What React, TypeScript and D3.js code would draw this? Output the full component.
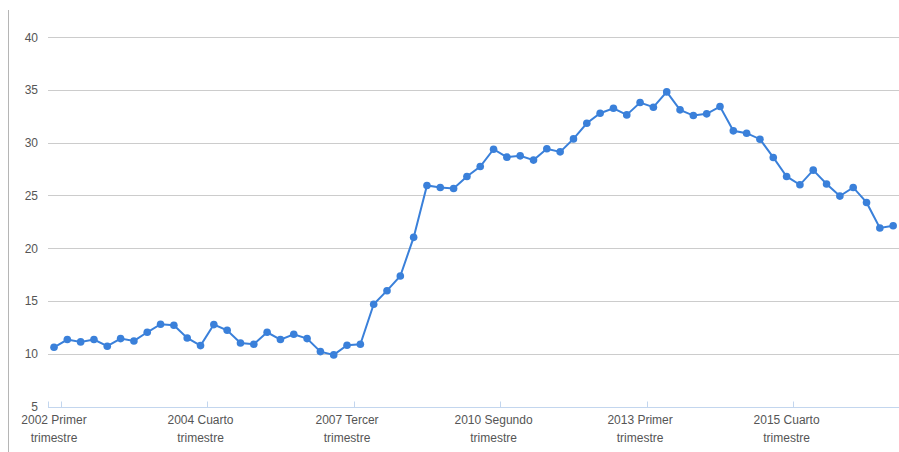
import React, { useEffect, useRef } from "react";
import * as d3 from "d3";

// Trimestres desde 2002 T1 hasta 2017 T4
const quarterNames = ["Primer", "Segundo", "Tercer", "Cuarto"];
const startYear = 2002;

const values = [
  10.61, 11.34, 11.12, 11.34, 10.71, 11.43, 11.21, 12.03, 12.79, 12.69,
  11.49, 10.77, 12.76, 12.22, 11.02, 10.9, 12.03, 11.34, 11.84, 11.43,
  10.2, 9.89, 10.8, 10.9, 14.68, 15.97, 17.36, 21.02, 25.94, 25.75,
  25.65, 26.79, 27.73, 29.37, 28.62, 28.74, 28.34, 29.41, 29.12, 30.35,
  31.83, 32.78, 33.25, 32.62, 33.79, 33.35, 34.8, 33.1, 32.56, 32.72,
  33.41, 31.11, 30.89, 30.32, 28.59, 26.79, 26.0, 27.39, 26.07, 24.93,
  25.75, 24.33, 21.91, 22.12,
];

const categories = values.map(
  (_, i) =>
    `${startYear + Math.floor(i / 4)} ${quarterNames[i % 4]} trimestre`,
);

const labelEvery = 11;
const yTicks = [5, 10, 15, 20, 25, 30, 35, 40];

const W = 899;
const H = 452;

const App: React.FC = () => {
  const svgRef = useRef<SVGSVGElement>(null);

  useEffect(() => {
    if (!svgRef.current) return;
    const svg = d3.select(svgRef.current);
    svg.selectAll("*").remove();

    const plotLeft = 48;
    const plotRight = 899;
    const step = 13.32;
    const firstX = 54;

    const x = d3
      .scaleLinear()
      .domain([0, values.length - 1])
      .range([firstX, firstX + step * (values.length - 1)]);
    const y = d3.scaleLinear().domain([5, 40]).range([406.5, 37]);

    // borde izquierdo
    svg
      .append("line")
      .attr("x1", 8.5)
      .attr("x2", 8.5)
      .attr("y1", 10)
      .attr("y2", H)
      .attr("stroke", "#b5b5b5")
      .attr("stroke-width", 1);

    // rejilla horizontal
    const grid = svg.append("g");
    grid
      .selectAll("line")
      .data(yTicks.filter((t) => t !== 5))
      .enter()
      .append("line")
      .attr("x1", plotLeft)
      .attr("x2", plotRight)
      .attr("y1", (d) => Math.round(y(d)) + 0.5)
      .attr("y2", (d) => Math.round(y(d)) + 0.5)
      .attr("stroke", "#cccccc")
      .attr("stroke-width", 1);

    // etiquetas eje Y
    svg
      .append("g")
      .selectAll("text")
      .data(yTicks)
      .enter()
      .append("text")
      .attr("x", 38)
      .attr("y", (d) => y(d) + 4.5)
      .attr("text-anchor", "end")
      .style("font-family", "Arial, 'Liberation Sans', sans-serif")
      .style("font-size", "12px")
      .style("fill", "#555")
      .text((d) => d);

    // eje X
    const baseY = Math.round(y(5)) + 0.5;
    svg
      .append("line")
      .attr("x1", plotLeft)
      .attr("x2", plotRight)
      .attr("y1", baseY)
      .attr("y2", baseY)
      .attr("stroke", "#c3d6ee")
      .attr("stroke-width", 1);

    const labelIdx = d3.range(0, values.length, labelEvery);
    const tickPos = [plotLeft, ...labelIdx.map((i) => x(i) + step / 2)];
    svg
      .append("g")
      .selectAll("line")
      .data(tickPos)
      .enter()
      .append("line")
      .attr("x1", (d) => Math.round(d) + 0.5)
      .attr("x2", (d) => Math.round(d) + 0.5)
      .attr("y1", baseY)
      .attr("y2", baseY - 6)
      .attr("stroke", "#c3d6ee")
      .attr("stroke-width", 1);

    const labels = svg
      .append("g")
      .selectAll("text")
      .data(labelIdx)
      .enter()
      .append("text")
      .attr("text-anchor", "middle")
      .style("font-family", "Arial, 'Liberation Sans', sans-serif")
      .style("font-size", "12px")
      .style("fill", "#555");
    labels.each(function (i) {
      const parts = categories[i].split(" ");
      const t = d3.select(this);
      t.append("tspan")
        .attr("x", x(i))
        .attr("y", 424)
        .text(`${parts[0]} ${parts[1]}`);
      t.append("tspan")
        .attr("x", x(i))
        .attr("y", 442)
        .text(parts[2]);
    });

    // serie
    const line = d3
      .line<number>()
      .x((_, i) => x(i))
      .y((d) => y(d));

    svg
      .append("path")
      .datum(values)
      .attr("d", line)
      .attr("fill", "none")
      .attr("stroke", "#3a80da")
      .attr("stroke-width", 2);

    svg
      .append("g")
      .selectAll("circle")
      .data(values)
      .enter()
      .append("circle")
      .attr("cx", (_, i) => x(i))
      .attr("cy", (d) => y(d))
      .attr("r", 3.8)
      .attr("fill", "#3a80da");
  }, []);

  return (
    <svg
      ref={svgRef}
      width={W}
      height={H}
      style={{ position: "absolute", left: 0, top: 0, background: "#fff" }}
    ></svg>
  );
};

export default App;
